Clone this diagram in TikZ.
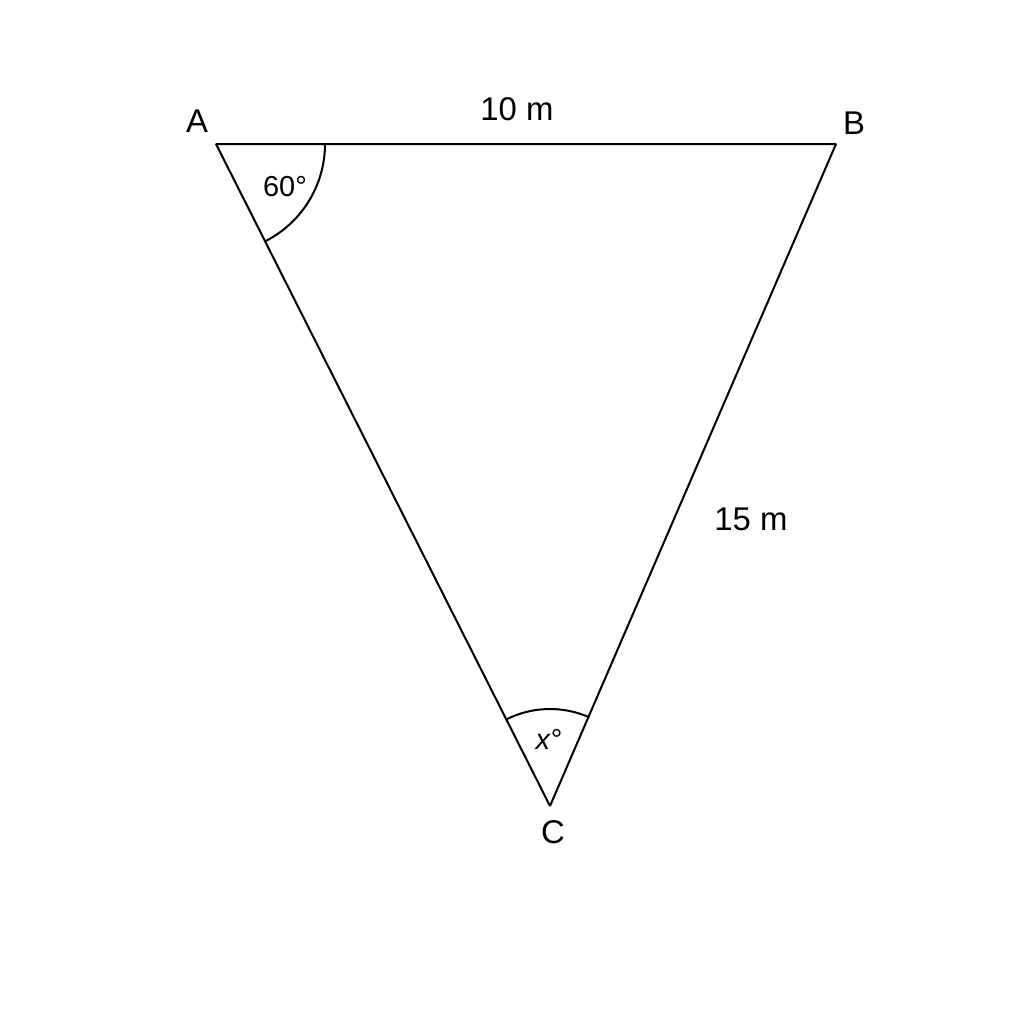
\documentclass[tikz,border=0pt]{standalone}
\usepackage{fontspec}
\setmainfont{Liberation Sans}
\usetikzlibrary{arrows}

\begin{document}
\begin{tikzpicture}[x=0.5bp,y=-0.5bp,line join=bevel,
  lbl/.style={font=\fontsize{16.5}{19}\selectfont,inner sep=0pt},
  ang/.style={font=\fontsize{14.5}{17}\selectfont,inner sep=0pt}]
  \pgfsetlinewidth{1bp}
  \useasboundingbox (0,0) rectangle (1024,1024);
%%
  % Node: A, B, C
  \coordinate (A) at (216,144);
  \coordinate (B) at (836,144);
  \coordinate (C) at (550,806);
  % Edge: A -> B -> C -> A
  \draw (A) -- (B) -- (C) -- cycle;
  % Angle: A
  \draw ([shift={(0:109)}]A) arc[start angle=0,end angle=63.2,radius=109];
  % Angle: C
  \draw ([shift={(-116.8:97)}]C) arc[start angle=-116.8,end angle=-66.6,radius=97];
  % Labels
  \node[lbl] (labA) at (197,121) {A};
  \node[lbl] (labB) at (854,123) {B};
  \node[lbl] (labC) at (553,832) {C};
  \node[lbl] (labAB) at (517,109) {10 m};
  \node[lbl] (labBC) at (751,519) {15 m};
  \node[ang] (angA) at (285,187) {60°};
  \node[ang] (angC) at (549,739) {\textit{x}°};
%
\end{tikzpicture}
\end{document}
